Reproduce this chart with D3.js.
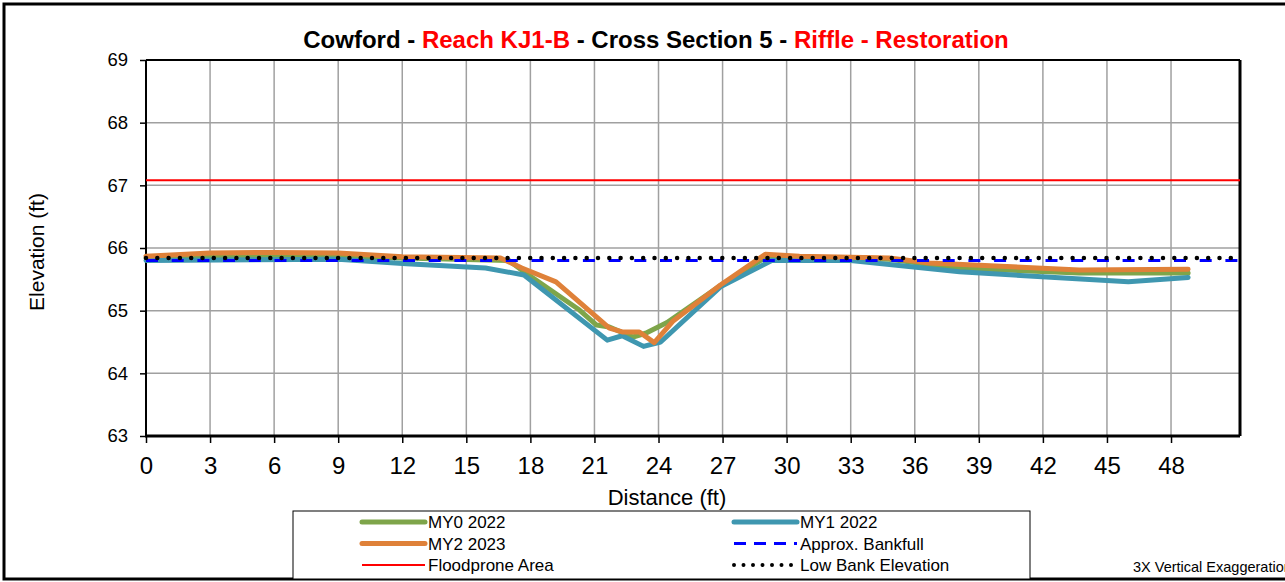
<!DOCTYPE html>
<meta charset="utf-8">
<style>
  body { margin: 0; background: #fff; font-family: "Liberation Sans", Arial, sans-serif; }
  svg { display: block; }
</style>
<body>
<svg id="chart" width="1285" height="582"></svg>
<script src="https://d3js.org/d3.v7.min.js"></script>
<script>
  // survey data: [distance (ft), elevation (ft)]
  const my0 = [[0,65.84],[3,65.86],[9,65.86],[12,65.84],[17.0,65.8],[17.7,65.62],[20.3,65.01],[21.1,64.77],[21.7,64.74],[22.8,64.58],[23.4,64.64],[24.4,64.81],[26.9,65.4],[29.0,65.85],[30.6,65.85],[34.8,65.82],[38.0,65.68],[43.7,65.6],[48.8,65.6]];
  const my1 = [[0,65.8],[9,65.82],[12.2,65.75],[15.9,65.68],[17.7,65.57],[21.6,64.53],[22.3,64.6],[23.3,64.43],[24.1,64.5],[26.9,65.38],[29.3,65.8],[33.0,65.8],[38.1,65.62],[46.0,65.46],[48.8,65.53]];
  const my2 = [[0,65.87],[3,65.92],[6,65.93],[9,65.92],[12,65.86],[16.6,65.84],[17.6,65.68],[19.2,65.46],[21.7,64.72],[22.3,64.66],[23.1,64.66],[23.8,64.49],[24.7,64.84],[26.9,65.41],[29.0,65.9],[30.6,65.87],[34.8,65.84],[36.7,65.76],[43.7,65.65],[48.8,65.66]];
  const bankfullElev = 65.8;
  const floodproneElev = 67.08;
  const lowBankElev = 65.84;

  const xTicks = d3.range(0, 49, 3);
  const yTicks = [63, 64, 65, 66, 67, 68, 69];

  const legendItems = [
    { name: "MY0 2022", color: "#7ea54a", width: 5, dash: null },
    { name: "MY1 2022", color: "#3f97b0", width: 5, dash: null },
    { name: "MY2 2023", color: "#df8139", width: 5, dash: null },
    { name: "Approx. Bankfull", color: "#0000ff", width: 3, dash: "12,8" },
    { name: "Floodprone Area", color: "#ff0000", width: 2, dash: null },
    { name: "Low Bank Elevation", color: "#000", width: 4, dash: "0,9.5" }
  ];

  const svg = d3.select("#chart");
  const font = "'Liberation Sans', Arial, sans-serif";

  // outer frame
  svg.append("rect").attr("x", 4).attr("y", 4).attr("width", 1290).attr("height", 575)
    .attr("fill", "#fff").attr("stroke", "#000").attr("stroke-width", 3);

  const plotL = 146, plotR = 1240, plotT = 60, plotB = 436;
  const x = d3.scaleLinear().domain([0, 51.23]).range([plotL, plotR]);
  const y = d3.scaleLinear().domain([63, 69]).range([plotB, plotT]);

  // grid
  svg.append("g").selectAll("line").data(xTicks.filter(d => d > 0))
    .join("line")
    .attr("x1", d => x(d)).attr("x2", d => x(d)).attr("y1", plotT).attr("y2", plotB)
    .attr("stroke", "#a0a0a0").attr("stroke-width", 1.5);
  svg.append("g").selectAll("line").data(yTicks.filter(d => d > 63 && d < 69))
    .join("line")
    .attr("x1", plotL).attr("x2", plotR).attr("y1", d => y(d)).attr("y2", d => y(d))
    .attr("stroke", "#a0a0a0").attr("stroke-width", 1.5);

  // axes
  const xAxis = svg.append("g").attr("transform", `translate(0,${plotB})`)
    .call(d3.axisBottom(x).tickValues(xTicks).tickFormat(d3.format("d")).tickSize(7).tickPadding(14));
  const yAxis = svg.append("g").attr("transform", `translate(${plotL},0)`)
    .call(d3.axisLeft(y).tickValues(yTicks).tickFormat(d3.format("d")).tickSize(6).tickPadding(12));
  xAxis.select(".domain").remove();
  yAxis.select(".domain").remove();
  xAxis.selectAll("text").attr("font-family", font).attr("font-size", 24).attr("fill", "#000");
  yAxis.selectAll("text").attr("font-family", font).attr("font-size", 18.5).attr("fill", "#000");
  svg.selectAll(".tick line").attr("stroke", "#000").attr("stroke-width", 1.5);

  // plot border
  svg.append("line").attr("x1", plotL).attr("x2", plotR).attr("y1", plotT).attr("y2", plotT)
    .attr("stroke", "#000").attr("stroke-width", 2);
  svg.append("line").attr("x1", plotR).attr("x2", plotR).attr("y1", plotT).attr("y2", plotB)
    .attr("stroke", "#000").attr("stroke-width", 3);
  svg.append("line").attr("x1", plotL).attr("x2", plotL).attr("y1", plotT).attr("y2", plotB)
    .attr("stroke", "#000").attr("stroke-width", 2);
  svg.append("line").attr("x1", plotL - 1).attr("x2", plotR).attr("y1", plotB).attr("y2", plotB)
    .attr("stroke", "#000").attr("stroke-width", 3);

  const line = d3.line().x(d => x(d[0])).y(d => y(d[1]));
  const series = [my0, my1, my2];
  series.forEach((data, i) => {
    svg.append("path").datum(data).attr("d", line)
      .attr("fill", "none").attr("stroke", legendItems[i].color).attr("stroke-width", 5)
      .attr("stroke-linecap", "round").attr("stroke-linejoin", "round");
  });

  const full = x.domain();
  svg.append("path").datum(full.map(d => [d, bankfullElev])).attr("d", line)
    .attr("fill", "none").attr("stroke", "#0000ff").attr("stroke-width", 3)
    .attr("stroke-dasharray", "12,13.7");
  svg.append("path").datum(full.map(d => [d, floodproneElev])).attr("d", line)
    .attr("fill", "none").attr("stroke", "#ff0000").attr("stroke-width", 2);
  svg.append("path").datum(full.map(d => [d, lowBankElev])).attr("d", line)
    .attr("fill", "none").attr("stroke", "#000").attr("stroke-width", 4.5)
    .attr("stroke-linecap", "round").attr("stroke-dasharray", "0,11.3");

  // title
  const title = svg.append("text").attr("x", 656).attr("y", 48).attr("text-anchor", "middle")
    .attr("font-family", font).attr("font-size", 24).attr("font-weight", "bold");
  [["Cowford - ", "#000"], ["Reach KJ1-B", "#ff0000"], [" - Cross Section 5 - ", "#000"], ["Riffle - Restoration", "#ff0000"]]
    .forEach(([t, c]) => title.append("tspan").attr("fill", c).text(t));

  // axis titles
  svg.append("text").attr("x", 667).attr("y", 505).attr("text-anchor", "middle")
    .attr("font-family", font).attr("font-size", 22).text("Distance (ft)");
  svg.append("text").attr("transform", "translate(44,252) rotate(-90)").attr("text-anchor", "middle")
    .attr("font-family", font).attr("font-size", 21).text("Elevation (ft)");

  // legend
  svg.append("rect").attr("x", 293).attr("y", 511).attr("width", 737).attr("height", 68)
    .attr("fill", "#fff").attr("stroke", "#000").attr("stroke-width", 1);
  legendItems.forEach((item, i) => {
    const col = i % 2, row = Math.floor(i / 2);
    const lx = col === 0 ? 362 : 734;
    const ly = 522 + row * 21.5;
    const g = svg.append("g");
    g.append("line").attr("x1", lx).attr("x2", lx + 63).attr("y1", ly).attr("y2", ly)
      .attr("stroke", item.color).attr("stroke-width", item.width)
      .attr("stroke-linecap", i < 3 || i === 5 ? "round" : "butt")
      .attr("stroke-dasharray", item.dash);
    g.append("text").attr("x", lx + 66).attr("y", ly + 6)
      .attr("font-family", font).attr("font-size", 17).text(item.name);
  });

  svg.append("text").attr("x", 1133).attr("y", 572)
    .attr("font-family", font).attr("font-size", 14.5).text("3X Vertical Exaggeration");
</script>
</body>
